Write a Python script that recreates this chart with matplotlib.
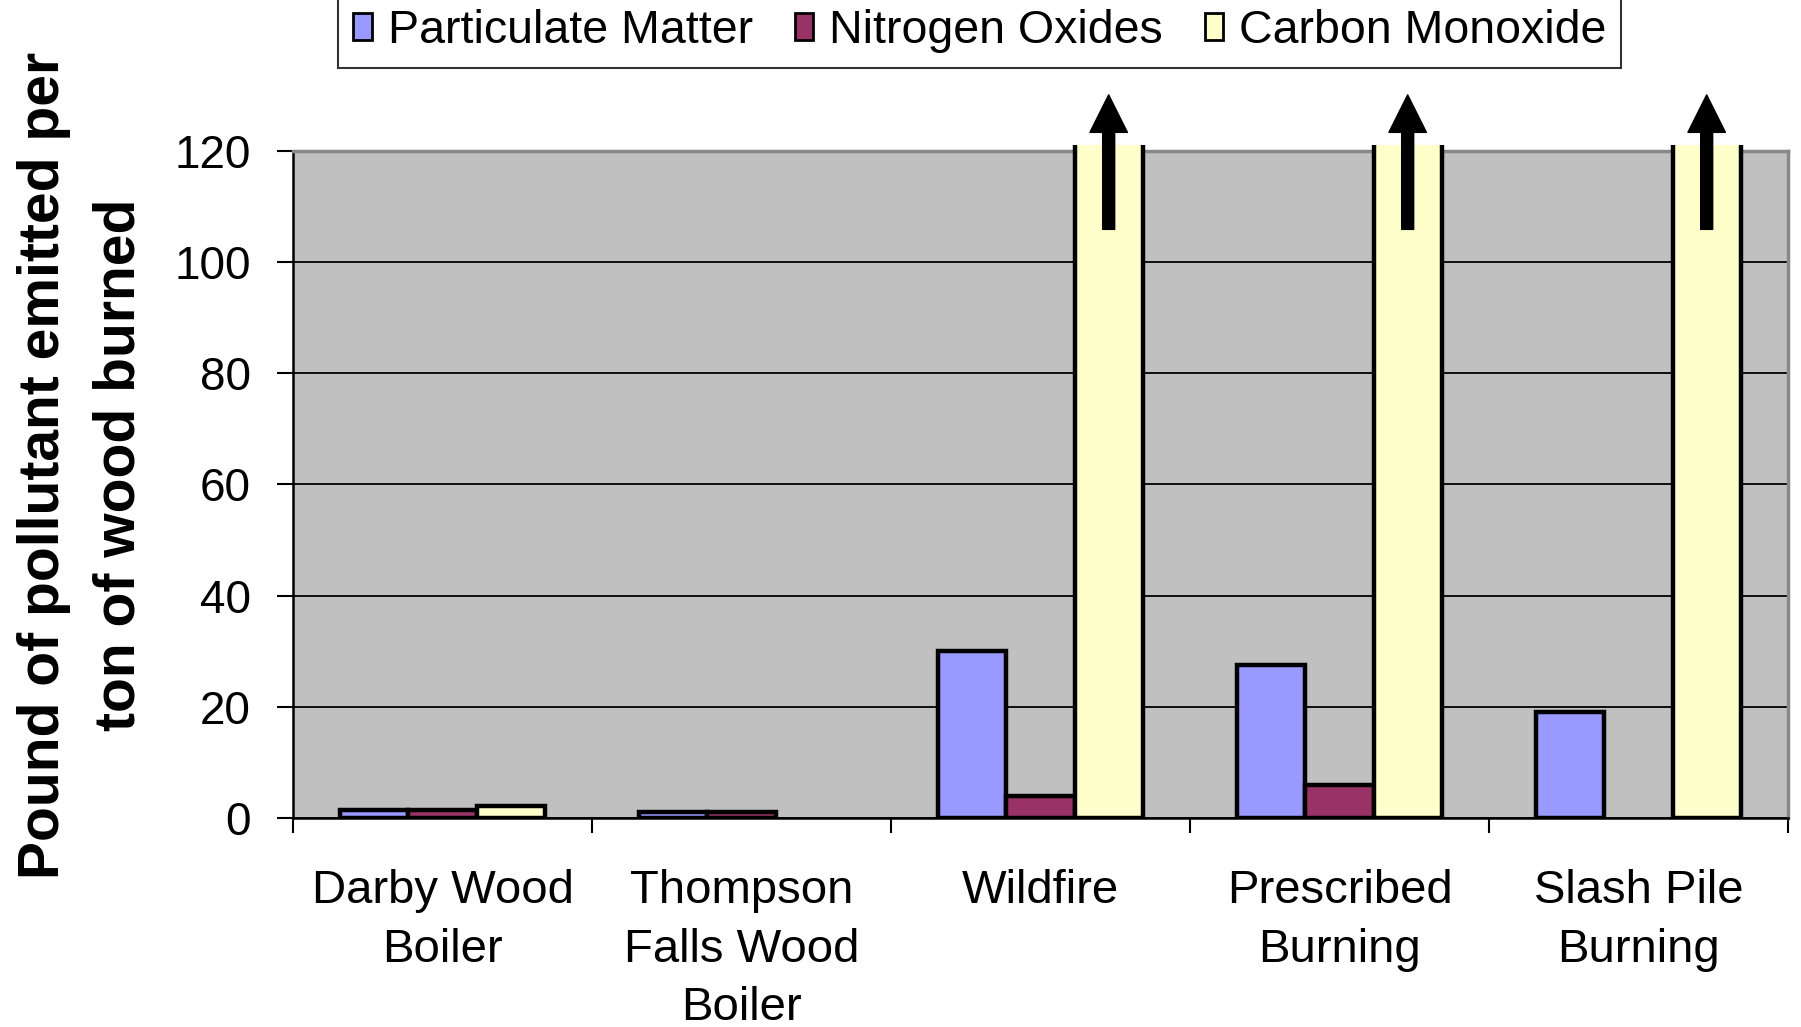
import matplotlib
matplotlib.use("Agg")
import matplotlib.pyplot as plt
import numpy as np
from matplotlib.patches import Rectangle, Patch

plt.rcParams['font.family'] = ['Liberation Sans', 'DejaVu Sans']

categories = ["Darby Wood\nBoiler", "Thompson\nFalls Wood\nBoiler", "Wildfire",
              "Prescribed\nBurning", "Slash Pile\nBurning"]
series_names = ["Particulate Matter", "Nitrogen Oxides", "Carbon Monoxide"]
particulate = [1.5, 1.1, 30.0, 27.5, 19.0]
nitrogen_oxides = [1.5, 1.1, 4.0, 6.0, 0.0]
# Carbon monoxide for the three fire types goes far off the chart (arrows)
carbon_monoxide = [2.2, 0.0, 200.0, 200.0, 200.0]
off_scale = [False, False, True, True, True]
y_ticks = [0, 20, 40, 60, 80, 100, 120]

colors = ["#9999FF", "#993366", "#FFFFCC"]

fig = plt.figure(figsize=(18.01, 10.27), dpi=100)
ax = fig.add_axes([0.16269, 0.20351, 0.83009, 0.64946])
ax.set_facecolor("#C0C0C0")

x = np.arange(len(categories))
w = 0.228
series = [particulate, nitrogen_oxides, carbon_monoxide]
clip = Rectangle((0, 0), 1, 1.009, transform=ax.transAxes, facecolor='none', edgecolor='none')
for j, vals in enumerate(series):
    bars = ax.bar(x + (j - 1) * w, vals, width=w, color=colors[j],
                  edgecolor="black", linewidth=3.2, zorder=3)
    for b, v in zip(bars, vals):
        if v <= 0:
            b.set_visible(False)
        b.set_clip_path(clip)

ax.set_xlim(-0.5, len(categories) - 0.5)
ax.set_ylim(0, 120)
ax.set_yticks(y_ticks)
ax.set_yticklabels([str(t) for t in y_ticks], fontsize=33)
ax.yaxis.grid(True, color="black", linewidth=1.3, zorder=1)
ax.set_axisbelow(True)
ax.tick_params(axis='y', direction='out', length=11.5, width=1.5, pad=19)

ax.set_xticks(x)
ax.set_xticklabels(categories, fontsize=34, linespacing=1.42)
ax.tick_params(axis='x', which='major', length=0, pad=37)
ax.set_xticks(np.arange(-0.5, len(categories), 1.0), minor=True)
ax.tick_params(axis='x', which='minor', direction='out', length=10.5, width=1.5)

for s in ['left', 'bottom']:
    ax.spines[s].set_color('black')
    ax.spines[s].set_linewidth(1.8)
for s in ['top', 'right']:
    ax.spines[s].set_color('#888888')
    ax.spines[s].set_linewidth(2.5)

# arrows for off-scale carbon monoxide
for xi, off in zip(x, off_scale):
    if off:
        ax.annotate('', xy=(xi + w, 130.1), xytext=(xi + w, 105.9),
                    xycoords='data', textcoords='data', annotation_clip=False,
                    arrowprops=dict(arrowstyle='simple,head_length=1.0,head_width=1.0,tail_width=0.32',
                                    mutation_scale=27, color='black', shrinkA=0, shrinkB=0),
                    zorder=5)

fig.text(82 / 1801, 1 - 465 / 1027, "Pound of pollutant emitted per\nton of wood burned",
         rotation=90, fontsize=41, fontweight='bold', ha='center', va='center',
         multialignment='center', linespacing=1.52)

handles = [Patch(facecolor=c, edgecolor='black', linewidth=2.0) for c in colors]
leg = fig.legend(handles, series_names, loc='lower center', bbox_to_anchor=(0.544, 1 - 68 / 1027),
                 ncol=3, fontsize=33.5, frameon=True, fancybox=False, edgecolor='black',
                 handlelength=0.4, handleheight=0.5, handletextpad=0.34, columnspacing=0.9,
                 borderpad=0.32, borderaxespad=0)
leg.get_frame().set_linewidth(1.5)

fig.savefig("out.png", dpi=100)
